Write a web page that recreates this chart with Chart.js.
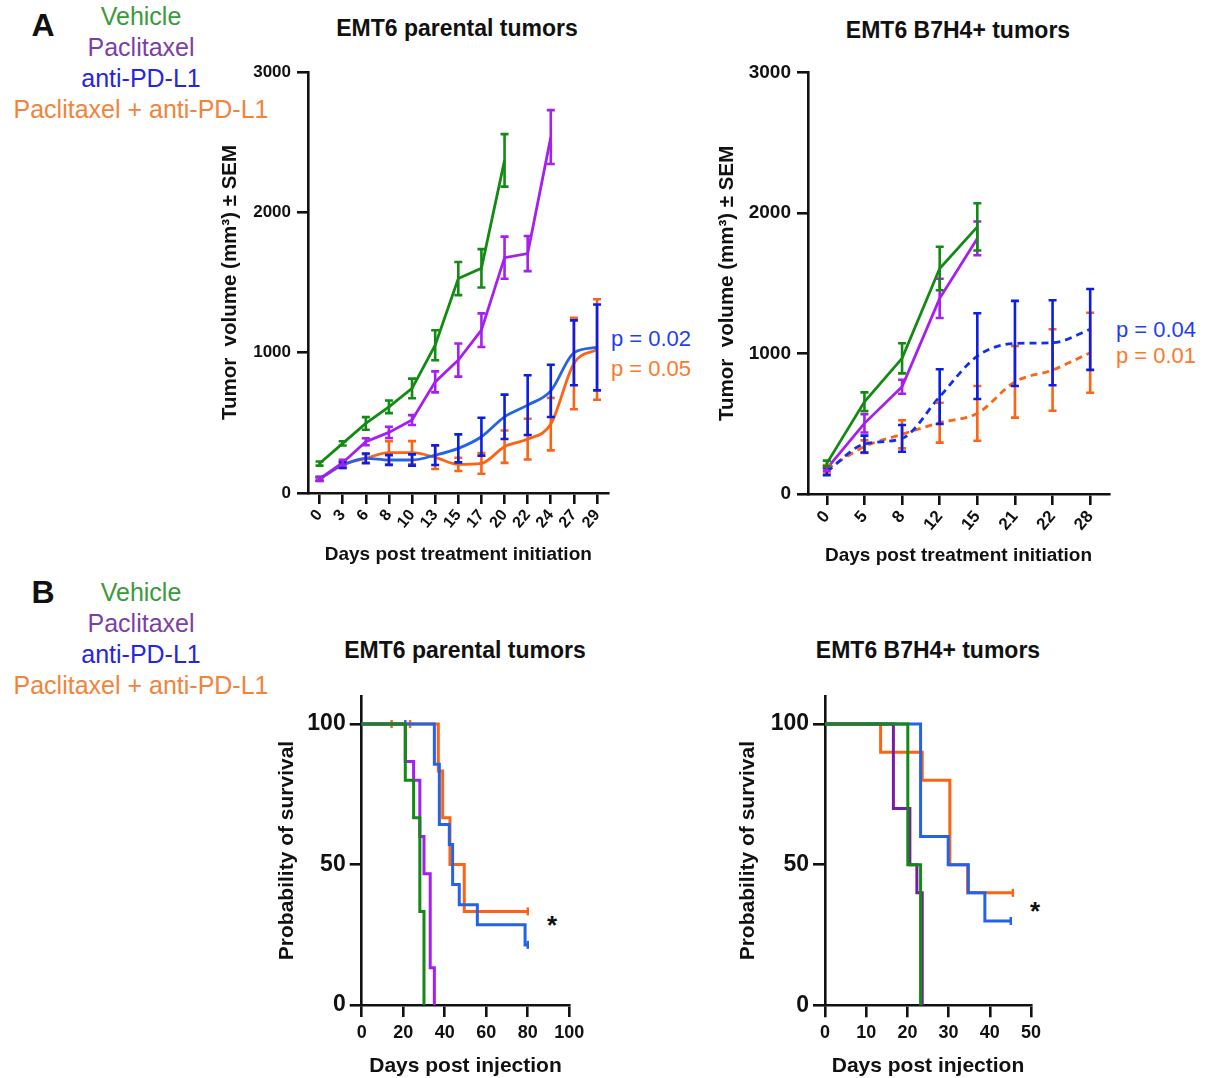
<!DOCTYPE html>
<html>
<head>
<meta charset="utf-8">
<script src="https://cdn.jsdelivr.net/npm/chart.js@4.4.1/dist/chart.umd.min.js"></script>
<style>
  body { margin: 0; width: 1205px; height: 1078px; position: relative; overflow: hidden; background: #fff; }
  canvas { position: absolute; }
  .t { position: absolute; transform: translate(-50%, -50%); white-space: nowrap; line-height: 1;
       font-family: "Liberation Sans", Arial, Helvetica, sans-serif; }
  .b { font-weight: bold; color: #111; }
  .leg { font-size: 25px; }
</style>
</head>
<body>
<!-- panel letters + legends -->
<div class="t b" style="left:43px;top:25px;font-size:32px">A</div>
<div class="t leg" style="left:141px;top:16px;color:#3a9a3a">Vehicle</div>
<div class="t leg" style="left:141px;top:47px;color:#7b3fa8">Paclitaxel</div>
<div class="t leg" style="left:141px;top:78px;color:#2626e0">anti-PD-L1</div>
<div class="t leg" style="left:141px;top:109px;color:#f0843a">Paclitaxel + anti-PD-L1</div>

<div class="t b" style="left:43px;top:592px;font-size:32px">B</div>
<div class="t leg" style="left:141px;top:592px;color:#3a9a3a">Vehicle</div>
<div class="t leg" style="left:141px;top:623px;color:#7b3fa8">Paclitaxel</div>
<div class="t leg" style="left:141px;top:654px;color:#2626e0">anti-PD-L1</div>
<div class="t leg" style="left:141px;top:685px;color:#f0843a">Paclitaxel + anti-PD-L1</div>

<!-- chart titles -->
<div class="t b" style="left:457px;top:28px;font-size:23px">EMT6 parental tumors</div>
<div class="t b" style="left:958px;top:30px;font-size:23px">EMT6 B7H4+ tumors</div>
<div class="t b" style="left:465px;top:650px;font-size:23px">EMT6 parental tumors</div>
<div class="t b" style="left:928px;top:650px;font-size:23px">EMT6 B7H4+ tumors</div>

<!-- p values, asterisks -->
<div class="t" style="left:651px;top:339px;font-size:22px;color:#1f3ff0">p = 0.02</div>
<div class="t" style="left:651px;top:369px;font-size:22px;color:#fb7a2a">p = 0.05</div>
<div class="t" style="left:1156px;top:330px;font-size:22px;color:#1f3ff0">p = 0.04</div>
<div class="t" style="left:1156px;top:356px;font-size:22px;color:#fb7a2a">p = 0.01</div>
<div class="t b" style="left:552px;top:925px;font-size:26px">*</div>
<div class="t b" style="left:1035px;top:911px;font-size:26px">*</div>

<canvas id="a1" width="440" height="530" style="left:190px;top:50px"></canvas>
<canvas id="a2" width="440" height="530" style="left:690px;top:50px"></canvas>
<canvas id="b1" width="340" height="420" style="left:250px;top:670px"></canvas>
<canvas id="b2" width="340" height="420" style="left:720px;top:670px"></canvas>

<script>
// --- A, parental: tumor volume (mm3), mean and SEM per day
const daysA1 = ['0', '3', '6', '8', '10', '13', '15', '17', '20', '22', '24', '27', '29'];
const vehA1 = [210, 354, 496, 614, 745, 1053, 1528, 1601, 2370];
const vehA1Err = [15, 15, 45, 45, 70, 107, 118, 137, 187];
const pacA1 = [100, 216, 365, 432, 520, 792, 947, 1160, 1677, 1706, 2536];
const pacA1Err = [12, 20, 25, 40, 35, 75, 118, 120, 150, 125, 192];
const antiA1 = [100, 199, 247, 235, 235, 270, 318, 401, 543, 626, 728, 999, 1037];
const antiA1Err = [15, 20, 35, 35, 40, 70, 100, 135, 158, 213, 186, 231, 306];
const comboA1 = [100, 199, 247, 287, 287, 254, 204, 211, 330, 384, 491, 923, 1023];
const comboA1Err = [12, 20, 30, 83, 83, 83, 47, 74, 115, 145, 187, 326, 358];

// --- A, B7H4+
const daysA2 = ['0', '5', '8', '12', '15', '21', '22', '28'];
const vehA2 = [218, 657, 966, 1606, 1902];
const vehA2Err = [20, 67, 107, 155, 168];
const pacA2 = [180, 503, 764, 1393, 1820];
const pacA2Err = [15, 65, 50, 140, 120];
const antiA2 = [159, 356, 396, 693, 982, 1072, 1077, 1172];
const antiA2Err = [25, 60, 95, 195, 305, 303, 303, 288];
const comboA2 = [176, 337, 425, 508, 574, 799, 883, 1006];
const comboA2Err = [30, 45, 100, 142, 195, 255, 290, 285];

// --- B, parental: Kaplan-Meier steps (day, % surviving)
const vehB1Day = [0, 21, 25, 28, 30];
const vehB1Surv = [100, 80, 66.7, 33.3, 0];
const pacB1Day = [0, 21, 25, 28, 30, 33, 35];
const pacB1Surv = [100, 86.7, 80, 60, 46.7, 13.3, 0];
const antiB1Day = [0, 35, 37.4, 42.2, 43.8, 47, 55.7, 78.7, 80];
const antiB1Surv = [100, 85.7, 64.3, 57.1, 42.9, 35.7, 28.6, 21.4, 21.4];
const comboB1Day = [0, 36.9, 39, 42.5, 49.4, 80];
const comboB1Surv = [100, 83.3, 66.7, 50, 33.3, 33.3];
const antiB1CensDay = [21, 80];
const antiB1CensSurv = [100, 21.4];
const comboB1CensDay = [14.4, 23.3, 80];
const comboB1CensSurv = [100, 100, 33.3];

// --- B, B7H4+
const vehB2Day = [0, 20.1, 23.2];
const vehB2Surv = [100, 50, 0];
const pacB2Day = [0, 16.6, 20.6, 22.3, 23.6];
const pacB2Surv = [100, 70, 50, 40, 0];
const antiB2Day = [0, 23.2, 29.9, 34.8, 38.8, 45.1];
const antiB2Surv = [100, 60, 50, 40, 30, 30];
const comboB2Day = [0, 13.5, 23.6, 30.3, 34.6, 45.6];
const comboB2Surv = [100, 90, 80, 50, 40, 40];
const antiB2CensDay = [45.1];
const antiB2CensSurv = [30];
const comboB2CensDay = [45.6];
const comboB2CensSurv = [40];

const FONT = '"Liberation Sans", Arial, Helvetica, sans-serif';
const INK = '#111';
const GREEN = '#138a13', PURPLE = '#a41ff0', PURPLE_DK = '#7a1ca2';
const BLUE = '#2462e6', BLUE_ERR = '#0a1ee8', BLUE_DASH = '#1030ee';
const ORANGE = '#fb6414';

Chart.defaults.font.family = FONT;
Chart.defaults.color = INK;

// SEM whiskers with caps, drawn from dataset.err through the y scale
const errorBars = {
  id: 'errorBars',
  afterDatasetsDraw(chart) {
    const ctx = chart.ctx, ys = chart.scales.y;
    for (let i = chart.data.datasets.length - 1; i >= 0; i--) {
      const ds = chart.data.datasets[i];
      if (!ds.err) continue;
      const pts = chart.getDatasetMeta(i).data;
      ctx.save();
      ctx.strokeStyle = ds.errColor || ds.borderColor;
      ctx.lineWidth = 2.6;
      pts.forEach((pt, j) => {
        const v = ds.data[j], e = ds.err[j];
        if (v == null || e == null) return;
        const top = ys.getPixelForValue(v + e), bot = ys.getPixelForValue(v - e);
        ctx.beginPath();
        ctx.moveTo(pt.x, top); ctx.lineTo(pt.x, bot);
        ctx.moveTo(pt.x - 4, top); ctx.lineTo(pt.x + 4, top);
        ctx.moveTo(pt.x - 4, bot); ctx.lineTo(pt.x + 4, bot);
        ctx.stroke();
      });
      ctx.restore();
    }
  }
};

function axisLines(len) {
  return {
    grid: { display: true, drawOnChartArea: false, drawTicks: true, tickLength: len, color: INK, lineWidth: 2.6 },
    border: { display: true, color: INK, width: 2.6 },
  };
}

function base(pad) {
  return {
    responsive: false, animation: false, devicePixelRatio: 1,
    layout: { padding: pad },
    plugins: { legend: { display: false }, tooltip: { enabled: false } },
  };
}

function growth(data, err, color, errColor, dashed, smooth) {
  return {
    data, err, errColor, borderColor: color, backgroundColor: color,
    borderWidth: 2.8, pointRadius: 0, clip: false,
    cubicInterpolationMode: smooth ? 'monotone' : 'default', tension: 0,
    borderDash: dashed ? [7, 5] : [],
  };
}

function km(days, surv, color) {
  return {
    data: days.map((d, i) => ({ x: d, y: surv[i] })),
    borderColor: color, borderWidth: 3, pointRadius: 0, stepped: 'before', clip: false,
  };
}

function censor(days, surv, color) {
  return {
    data: days.map((d, i) => ({ x: d, y: surv[i] })),
    showLine: false, pointStyle: 'line', rotation: 90, pointRadius: 4,
    borderColor: color, borderWidth: 2.5, clip: false,
  };
}

function growthScales(w, h, yTick, xTick, yTitlePad, xTitlePad) {
  return {
    x: {
      type: 'category', offset: true, ...axisLines(11),
      ticks: { autoSkip: false, minRotation: 50, maxRotation: 50, padding: 2, font: { size: xTick, weight: 'bold' } },
      title: { display: true, text: 'Days post treatment initiation', font: { size: 19, weight: 'bold' }, padding: { top: 0, bottom: xTitlePad } },
      afterFit: s => { s.height = h; },
    },
    y: {
      min: 0, max: 3000, ...axisLines(11),
      ticks: { stepSize: 1000, padding: 6, font: { size: yTick, weight: 'bold' }, callback: v => String(v) },
      title: { display: true, text: 'Tumor  volume (mm³) ± SEM', font: { size: 20.5, weight: 'bold' }, padding: { top: yTitlePad, bottom: 0 } },
      afterFit: s => { s.width = w; },
    },
  };
}

function kmScales(w, h, xMax, xStep, yTitlePad) {
  return {
    x: {
      type: 'linear', min: 0, max: xMax, ...axisLines(12),
      ticks: { stepSize: xStep, padding: 5, font: { size: 18, weight: 'bold' } },
      title: { display: true, text: 'Days post injection', font: { size: 21, weight: 'bold' }, padding: { top: 0, bottom: 11.4 } },
      afterFit: s => { s.height = h; },
    },
    y: {
      min: 0, max: 110, ...axisLines(12),
      ticks: { stepSize: 50, padding: 4, font: { size: 23, weight: 'bold' } },
      afterBuildTicks: s => { s.ticks = s.ticks.filter(t => t.value % 50 === 0); },
      title: { display: true, text: 'Probability of survival', font: { size: 21, weight: 'bold' }, padding: { top: yTitlePad, bottom: 0 } },
      afterFit: s => { s.width = w; },
    },
  };
}

new Chart(document.getElementById('a1'), {
  type: 'line',
  data: {
    labels: daysA1,
    datasets: [
      growth(vehA1, vehA1Err, GREEN, GREEN, false, false),
      growth(pacA1, pacA1Err, PURPLE, PURPLE, false, false),
      growth(antiA1, antiA1Err, BLUE, BLUE_ERR, false, true),
      growth(comboA1, comboA1Err, ORANGE, ORANGE, false, true),
    ],
  },
  options: { ...base({ left: 0, top: 22, right: 21.4, bottom: 0 }), scales: growthScales(118, 87, 17, 16, 27.7, 13.6) },
  plugins: [errorBars],
});

new Chart(document.getElementById('a2'), {
  type: 'line',
  data: {
    labels: daysA2,
    datasets: [
      growth(vehA2, vehA2Err, GREEN, GREEN, false, false),
      growth(pacA2, pacA2Err, PURPLE, PURPLE, false, false),
      growth(antiA2, antiA2Err, BLUE_DASH, BLUE_ERR, true, true),
      growth(comboA2, comboA2Err, ORANGE, ORANGE, true, true),
    ],
  },
  options: { ...base({ left: 0, top: 22.7, right: 21, bottom: 0 }), scales: growthScales(118, 86, 19, 17, 24.7, 12.6) },
  plugins: [errorBars],
});

new Chart(document.getElementById('b1'), {
  type: 'line',
  data: {
    datasets: [
      km(vehB1Day, vehB1Surv, GREEN),
      km(pacB1Day, pacB1Surv, PURPLE),
      km(antiB1Day, antiB1Surv, BLUE),
      km(comboB1Day, comboB1Surv, ORANGE),
      censor(antiB1CensDay, antiB1CensSurv, BLUE),
      censor(comboB1CensDay, comboB1CensSurv, ORANGE),
    ],
  },
  options: { ...base({ left: 0, top: 26, right: 20.7, bottom: 0 }), scales: kmScales(111.7, 85, 100, 20, 24.4) },
});

new Chart(document.getElementById('b2'), {
  type: 'line',
  data: {
    datasets: [
      km(vehB2Day, vehB2Surv, GREEN),
      km(pacB2Day, pacB2Surv, PURPLE_DK),
      km(antiB2Day, antiB2Surv, BLUE),
      km(comboB2Day, comboB2Surv, ORANGE),
      censor(antiB2CensDay, antiB2CensSurv, BLUE),
      censor(comboB2CensDay, comboB2CensSurv, ORANGE),
    ],
  },
  options: { ...base({ left: 0, top: 26, right: 29, bottom: 0 }), scales: kmScales(105, 84.7, 50, 10, 15.9) },
});
</script>
</body>
</html>
